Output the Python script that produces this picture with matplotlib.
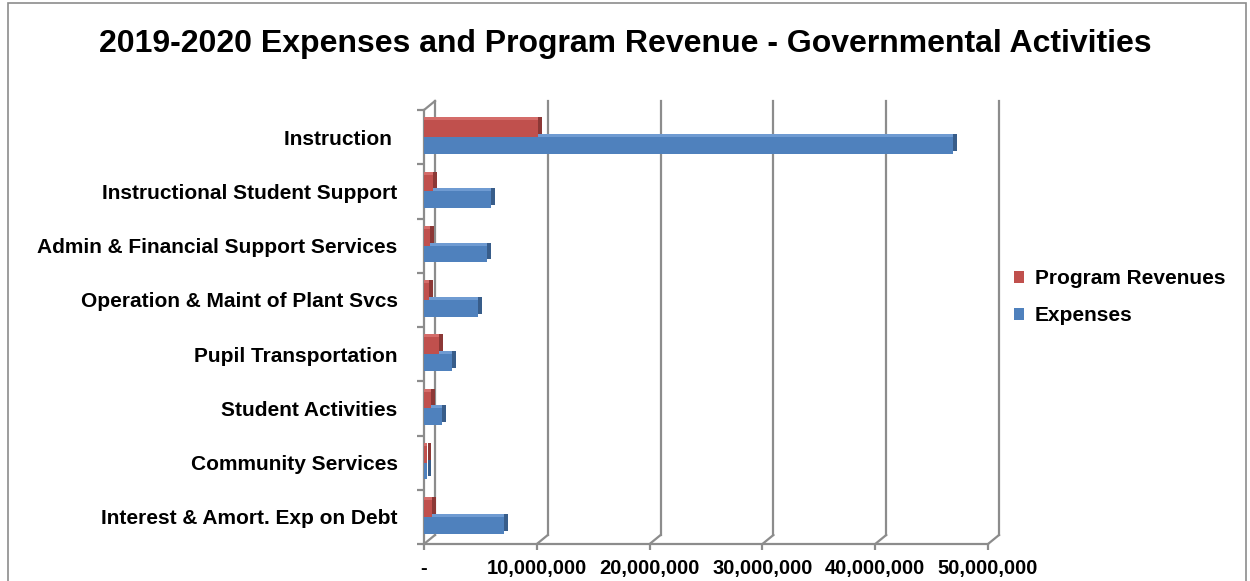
import numpy as np
import matplotlib.pyplot as plt
from matplotlib.lines import Line2D
from matplotlib.patches import Rectangle
from matplotlib.transforms import ScaledTranslation

plt.rcParams['font.family'] = ['Liberation Sans', 'DejaVu Sans']

categories = ['Instruction ', 'Instructional Student Support', 'Admin & Financial Support Services',
              'Operation & Maint of Plant Svcs', 'Pupil Transportation', 'Student Activities',
              'Community Services', 'Interest & Amort. Exp on Debt']
expenses = [46.9e6, 5.9e6, 5.6e6, 4.8e6, 2.5e6, 1.6e6, 0.3e6, 7.1e6]
program_revenues = [10.1e6, 0.8e6, 0.55e6, 0.45e6, 1.3e6, 0.6e6, 0.25e6, 0.75e6]
xticks = [0, 10e6, 20e6, 30e6, 40e6, 50e6]

red, red_top, red_side = '#C0504D', '#D46C69', '#8C3836'
blue, blue_top, blue_side = '#4F81BD', '#6F9BD2', '#385D8A'
grid_c = '#8C8C8C'

fig = plt.figure(figsize=(12.5, 5.81), dpi=100)
ax = fig.add_axes([424 / 1250, 37 / 581, 564 / 1250, 434 / 581])
ax.set_xlim(0, 50e6)
ax.set_ylim(7.5, -0.5)
for s in ax.spines.values():
    s.set_visible(False)

fig.add_artist(Rectangle((0.0064, -0.1), 0.9904, 1.094, transform=fig.transFigure,
                         fill=False, edgecolor='#8C8C8C', lw=1.2))

# walls: back wall offset (in pixels)
dx, dy = 11, 9
back = ax.transData + ScaledTranslation(dx / 100, dy / 100, fig.dpi_scale_trans)
for xt in xticks:
    ax.plot([xt, xt], [7.5, -0.5], color=grid_c, lw=1.6, transform=back, clip_on=False, zorder=1)

fig.canvas.draw()
def px(x, y):
    return ax.transData.transform((x, y))

lines = []
for xt in xticks:
    x0, y0 = px(xt, 7.5)
    lines.append(([x0, x0 + dx], [y0, y0 + dy]))
xl, yt = px(0, -0.5)
lines.append(([xl, xl + dx], [yt, yt + dy]))
for xs, ys in lines:
    fig.add_artist(Line2D(xs, ys, color=grid_c, lw=1.6, transform=None))
# front axes
ax.plot([0, 0], [-0.5, 7.5], color=grid_c, lw=1.6, clip_on=False, zorder=2)
ax.plot([0, 50e6], [7.5, 7.5], color=grid_c, lw=1.6, clip_on=False, zorder=2)

# bars with a fake 3D depth
h = 0.31
ys = np.arange(len(categories))
def bar3d(y, vals, c, ct, cs):
    side = ax.transData + ScaledTranslation(4 / 100, 3 / 100, fig.dpi_scale_trans)
    top = ax.transData + ScaledTranslation(0, 3 / 100, fig.dpi_scale_trans)
    ax.barh(y, vals, height=h, color=cs, transform=side, zorder=3)
    ax.barh(y, vals, height=h, color=ct, transform=top, zorder=3)
    return ax.barh(y, vals, height=h, color=c, zorder=4)

b_exp = bar3d(ys + h / 2, expenses, blue, blue_top, blue_side)
b_rev = bar3d(ys - h / 2, program_revenues, red, red_top, red_side)

ax.set_yticks(ys)
ax.set_yticklabels(categories, fontsize=15, fontweight='bold')
ax.set_yticks(np.arange(-0.5, 8, 1), minor=True)
ax.tick_params(axis='y', which='major', length=0, pad=19)
ax.tick_params(axis='y', which='minor', length=5, width=1.6, color=grid_c)
ax.set_xticks(xticks)
ax.set_xticklabels(['-' if v == 0 else f'{v:,.0f}' for v in xticks], fontsize=14.5, fontweight='bold')
ax.tick_params(axis='x', length=4, width=1.6, color=grid_c, pad=7)

fig.text(0.5, 0.924, '2019-2020 Expenses and Program Revenue - Governmental Activities',
         ha='center', va='center', fontsize=23, fontweight='bold')

fig.legend([b_rev, b_exp], ['Program Revenues', 'Expenses'], loc='center left',
           bbox_to_anchor=(0.811, 0.4885), frameon=False, handlelength=0.5, handleheight=0.5,
           handletextpad=0.5, labelspacing=0.85, borderaxespad=0, borderpad=0,
           prop={'size': 15, 'weight': 'bold'})

fig.savefig('out.png', dpi=100)
